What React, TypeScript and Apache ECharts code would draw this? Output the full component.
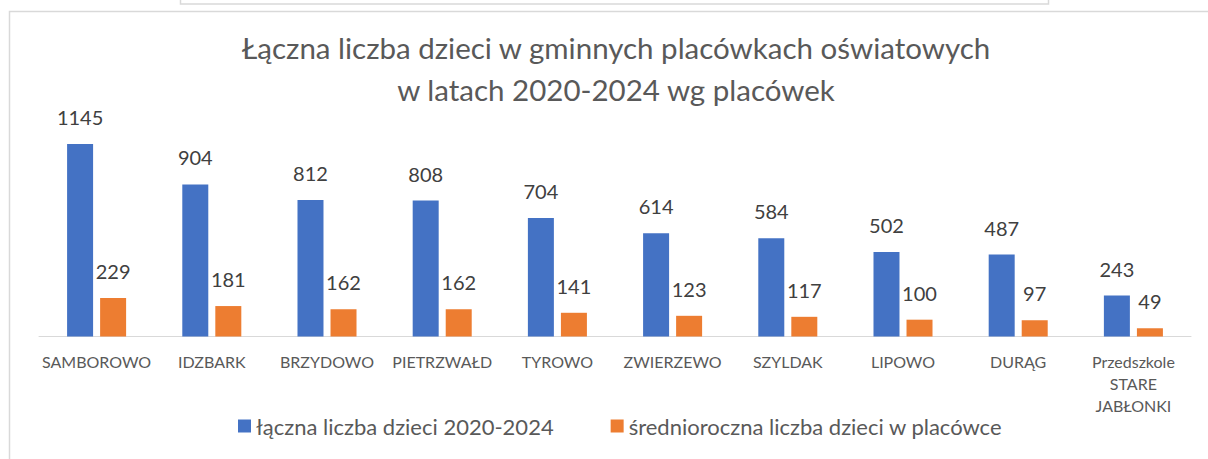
import React, { useEffect, useRef } from "react";
import * as echarts from "echarts";

const categories = [
  "SAMBOROWO",
  "IDZBARK",
  "BRZYDOWO",
  "PIETRZWAŁD",
  "TYROWO",
  "ZWIERZEWO",
  "SZYLDAK",
  "LIPOWO",
  "DURĄG",
  "Przedszkole\nSTARE\nJABŁONKI",
];
const totalChildren = [1145, 904, 812, 808, 704, 614, 584, 502, 487, 243];
const avgChildren = [229, 181, 162, 162, 141, 123, 117, 100, 97, 49];
const seriesNames = [
  "łączna liczba dzieci 2020-2024",
  "średnioroczna liczba dzieci w placówce",
];
const titleText =
  "Łączna liczba dzieci w gminnych placówkach oświatowych\nw latach 2020-2024 wg placówek";

const FONT = "Lato";

export default function App() {
  const ref = useRef<HTMLDivElement>(null);
  useEffect(() => {
    if (!ref.current) return;
    const chart = echarts.init(ref.current, undefined, { renderer: "svg" });
    const labelStyle = {
      show: true,
      position: "top" as const,
      distance: 17,
      fontSize: 20,
      color: "#404040",
      fontFamily: FONT,
    };
    chart.setOption({
      animation: false,
      backgroundColor: "#ffffff",
      textStyle: { fontFamily: FONT },
      title: {
        text: titleText,
        left: 611,
        textAlign: "center",
        top: 21,
        textStyle: {
          fontSize: 29.5,
          fontWeight: "normal",
          color: "#595959",
          lineHeight: 42,
          fontFamily: FONT,
        },
      },
      legend: {
        bottom: 17,
        left: 233,
        itemWidth: 13,
        itemHeight: 13,
        itemGap: 57,
        icon: "rect",
        textStyle: { fontSize: 22, color: "#595959", fontFamily: FONT },
        data: seriesNames,
      },
      grid: { left: 39, right: 17, top: 101, bottom: 122.5 },
      xAxis: {
        type: "category",
        data: categories,
        axisLine: { lineStyle: { color: "#d9d9d9", width: 1 } },
        axisTick: { show: false },
        axisLabel: {
          interval: 0,
          fontSize: 16,
          color: "#595959",
          margin: 14,
          lineHeight: 22,
          fontFamily: FONT,
        },
      },
      yAxis: {
        type: "value",
        min: 0,
        max: 1400,
        show: false,
        splitLine: { show: false },
      },
      series: [
        {
          name: seriesNames[0],
          type: "bar",
          data: totalChildren,
          barWidth: 26,
          barGap: "27%",
          itemStyle: { color: "#4472C4" },
          label: labelStyle,
        },
        {
          name: seriesNames[1],
          type: "bar",
          data: avgChildren,
          barWidth: 26,
          itemStyle: { color: "#ED7D31" },
          label: labelStyle,
        },
      ],
      graphic: [
        {
          type: "rect",
          shape: { x: 180.5, y: -10, width: 868, height: 14 },
          style: { fill: "none", stroke: "#d9d9d9", lineWidth: 1.5 },
          silent: true,
        },
        {
          type: "rect",
          shape: { x: 9.5, y: 11.5, width: 1300, height: 500 },
          style: { fill: "none", stroke: "#d9d9d9", lineWidth: 1.5 },
          silent: true,
        },
      ],
    });
    return () => chart.dispose();
  }, []);
  return (
    <div
      ref={ref}
      style={{ position: "fixed", left: 0, top: 0, width: 1208, height: 459 }}
    />
  );
}
